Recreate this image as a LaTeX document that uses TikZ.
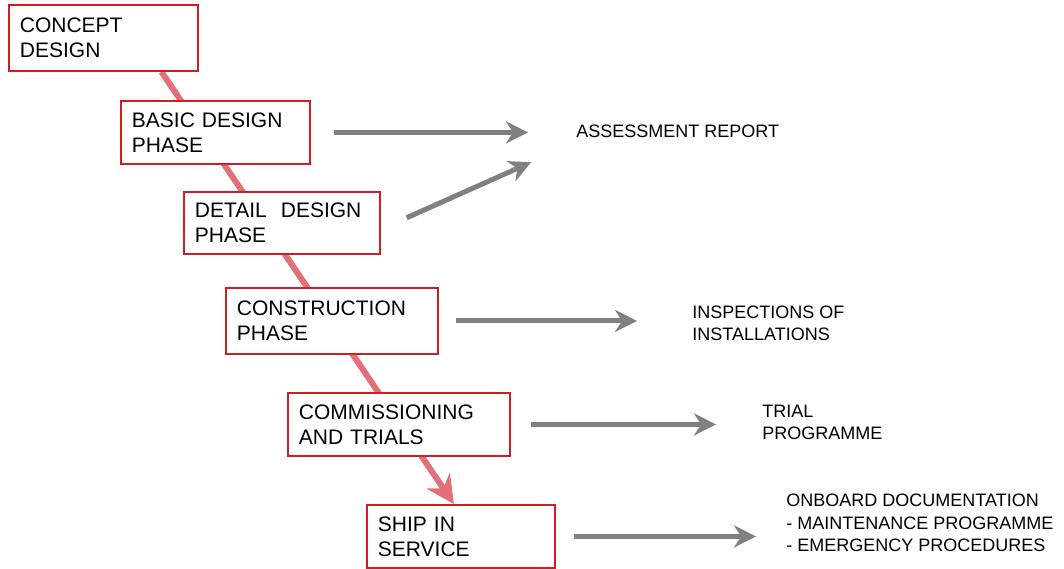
\documentclass[tikz,border=0pt]{standalone}
\usepackage{fontspec}
\setmainfont{Liberation Sans}
\usetikzlibrary{arrows.meta, positioning, backgrounds}
\definecolor{boxred}{RGB}{205,30,35}
\definecolor{flowred}{RGB}{226,112,118}
\definecolor{outgray}{RGB}{128,128,128}

\begin{document}
\begin{tikzpicture}[x=0.5pt, y=-0.5pt, >=Stealth,
  phase/.style={draw=boxred, line width=0.9pt, fill=white, anchor=north west, align=left,
    inner xsep=5.5pt, inner ysep=0pt, font=\fontsize{10.5}{12.5}\selectfont},
  note/.style={anchor=west, align=left, inner sep=0pt, font=\fontsize{9}{11.2}\selectfont},
  flow/.style={draw=flowred, line width=3pt, -{Stealth[length=14pt, width=14pt]}},
  outarrow/.style={draw=outgray, line width=2.5pt, -{Stealth[length=11pt, width=11pt]}}]
\useasboundingbox (0,0) rectangle (1064,568);
% design phases
\node[phase, text width=83.5pt, minimum height=33pt] (concept) at (8,4) {CONCEPT\\DESIGN};
\node[phase, text width=83.5pt, minimum height=31.5pt] (basic) at (120,100) {BASIC DESIGN\\PHASE};
\node[phase, text width=87pt, minimum height=31pt] (detail) at (183,191) {DETAIL\ \ DESIGN\\PHASE};
\node[phase, text width=95pt, minimum height=33pt] (construction) at (225,287) {CONSTRUCTION\\PHASE};
\node[phase, text width=100pt, minimum height=31.5pt] (commissioning) at (287,392) {COMMISSIONING\\AND TRIALS};
\node[phase, text width=83pt, minimum height=31.5pt] (ship) at (366,504) {SHIP IN\\SERVICE};
% outputs
\node[note] (assess) at (576,131) {ASSESSMENT REPORT};
\node[note] (insp) at (692,323.5) {INSPECTIONS OF\\INSTALLATIONS};
\node[note] (trial) at (762,422.5) {TRIAL\\PROGRAMME};
\node[note] (onboard) at (786,523) {ONBOARD DOCUMENTATION\\- MAINTENANCE PROGRAMME\\- EMERGENCY PROCEDURES};
\begin{scope}[on background layer]
\draw[flow] ([xshift=29pt]concept.south) -- ([xshift=-3.5pt]ship.north);
\end{scope}
\draw[outarrow, shorten <=11.5pt, shorten >=24pt] (basic.east) -- (basic.east -| assess.west);
\draw[outarrow, shorten <=14.2pt, shorten >=24.6pt] ([yshift=-3.2pt]detail.east) -- ([yshift=-5.6pt]assess.west);
\draw[outarrow, shorten <=8.5pt, shorten >=27.5pt] (construction.east) -- (construction.east -| insp.west);
\draw[outarrow, shorten <=10pt, shorten >=23pt] (commissioning.east) -- (commissioning.east -| trial.west);
\draw[outarrow, shorten <=9pt, shorten >=15pt] (ship.east) -- (ship.east -| onboard.west);
\end{tikzpicture}
\end{document}
